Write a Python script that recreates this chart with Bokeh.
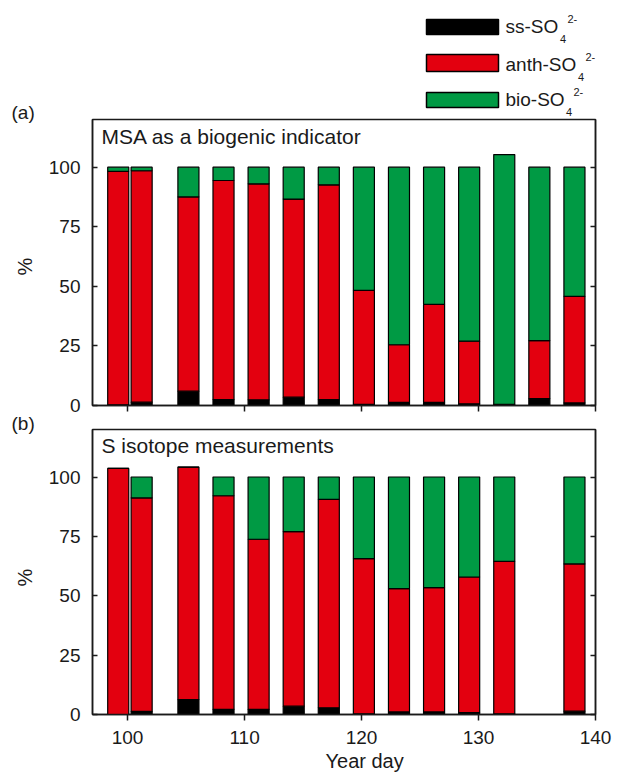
import math
from bokeh.plotting import figure
from bokeh.models import Range1d, LinearAxis, FixedTicker, ColumnDataSource, Title
from bokeh.layouts import column, row
from bokeh.core.properties import value
from bokeh.embed import file_html
from bokeh.resources import INLINE

# ---------------- data ----------------
days_a = [99.2, 101.2, 105.2, 108.2, 111.2, 114.2, 117.2, 120.2, 123.2, 126.2, 129.2, 132.2, 135.2, 138.2]
ss_a = [0.3, 1.4, 6.0, 2.5, 2.4, 3.5, 2.5, 0.5, 1.3, 1.3, 0.7, 0.5, 2.9, 1.1]
anth_a = [97.9, 97.1, 81.5, 91.9, 90.6, 83.1, 90.1, 47.8, 24.2, 41.1, 26.3, 0.0, 24.3, 44.7]
bio_a = [1.8, 1.5, 12.5, 5.6, 7.0, 13.4, 7.4, 51.7, 74.5, 57.6, 73.0, 104.8, 72.8, 54.2]

days_b = [99.2, 101.2, 105.2, 108.2, 111.2, 114.2, 117.2, 120.2, 123.2, 126.2, 129.2, 132.2, 138.2]
ss_b = [0.0, 1.3, 6.3, 2.2, 2.2, 3.5, 2.8, 0.3, 1.1, 1.1, 0.8, 0.3, 1.4]
anth_b = [103.6, 89.9, 97.9, 89.9, 71.6, 73.5, 87.8, 65.3, 51.9, 52.3, 57.1, 64.2, 62.0]
bio_b = [0.0, 8.8, 0.0, 7.9, 26.2, 23.0, 9.4, 34.4, 47.0, 46.6, 42.1, 35.5, 36.6]

x_ticks = [100, 110, 120, 130, 140]
y_ticks = [0, 25, 50, 75, 100]
series = ["ss", "anth", "bio"]
legend_main = ["ss-SO", "anth-SO", "bio-SO"]
legend_sub = ["4", "4", "4"]
legend_sup = ["2-", "2-", "2-"]
panel_tags = ["(a)", "(b)"]
panel_titles = ["MSA as a biogenic indicator", "S isotope measurements"]
x_label = "Year day"
y_label = "%"

# ---------------- style ----------------
FONT = "Liberation Sans"
TXT = "#1a1a1a"
COLORS = ["#000000", "#E3000F", "#009A44"]
FRAME = "#1a1a1a"
X0, X1 = 97, 140
Y0, Y1 = 0, 120
FW = 503
BAR_W = 1.8
STRIP_W = 40
COL_W = 581
B_RIGHT = 26
B_LEFT = COL_W - FW - B_RIGHT   # 52 -> frame left at page x 92
LEG_H = 118
BASE_FIX = 0.375                # alphabetic baseline correction (fraction of font size)


def fix(py, size):
    return py - BASE_FIX * size


def make_panel(days, ss, anth, bio, frame_h, top_b, bottom_b, show_labels):
    src = ColumnDataSource(dict(day=days, ss=ss, anth=anth, bio=bio))
    p = figure(frame_width=FW, frame_height=frame_h,
               x_range=Range1d(X0, X1), y_range=Range1d(Y0, Y1),
               output_backend="svg", toolbar_location=None,
               min_border_left=B_LEFT, min_border_right=B_RIGHT,
               min_border_top=top_b, min_border_bottom=bottom_b)
    p.vbar_stack(series, x="day", width=BAR_W, source=src,
                 fill_color=COLORS, line_color="black", line_width=1.2)
    p.xgrid.visible = False
    p.ygrid.visible = False
    p.outline_line_color = FRAME
    p.outline_line_width = 1.5
    p.background_fill_color = "white"
    p.border_fill_color = "white"

    xa = p.xaxis[0]
    xa.ticker = FixedTicker(ticks=x_ticks)
    xa.major_tick_in = 0
    xa.major_tick_out = 6
    xa.minor_tick_line_color = None
    xa.axis_line_color = FRAME
    xa.axis_line_width = 1.5
    xa.major_tick_line_color = FRAME
    xa.major_tick_line_width = 1.5
    xa.major_label_text_font = FONT
    xa.major_label_text_color = TXT
    xa.major_label_text_font_size = "19px"
    if show_labels:
        xa.major_label_standoff = 10
    else:
        xa.major_label_overrides = {t: "" for t in x_ticks}
        xa.major_label_standoff = 0

    ya = p.yaxis[0]
    ya.ticker = FixedTicker(ticks=y_ticks)
    ya.major_tick_in = 5
    ya.major_tick_out = 0
    ya.minor_tick_line_color = None
    ya.axis_line_color = FRAME
    ya.axis_line_width = 1.5
    ya.major_tick_line_color = FRAME
    ya.major_tick_line_width = 1.5
    ya.major_label_text_font = FONT
    ya.major_label_text_font_size = "19px"
    ya.major_label_text_color = TXT
    ya.major_label_standoff = 12

    ra = LinearAxis(ticker=FixedTicker(ticks=y_ticks),
                    major_label_overrides={t: "" for t in y_ticks},
                    major_label_standoff=0, major_tick_in=5, major_tick_out=0,
                    minor_tick_line_color=None, axis_line_color=FRAME, axis_line_width=1.5,
                    major_tick_line_color=FRAME, major_tick_line_width=1.5)
    p.add_layout(ra, "right")
    return p


# panel (a): page y 118 -> 417, frame 119..405
pa = make_panel(days_a, ss_a, anth_a, bio_a, 286, 119 - LEG_H, 12, False)
# panel (b): page y 417 -> ..., frame 429..714
pb = make_panel(days_b, ss_b, anth_b, bio_b, 285, 12, 0, True)


def xd(px):
    return X0 + (px - 92) * (X1 - X0) / FW


def yda(py):
    return Y1 - (py - 119) * (Y1 - Y0) / 286


def ydb(py):
    return Y1 - (py - 429) * (Y1 - Y0) / 285


# in-frame panel titles
pa.text(x=[xd(101)], y=[yda(fix(144, 21))], text=[panel_titles[0]], text_font=value(FONT),
        text_font_size=value("21px"), text_color=TXT, text_baseline="alphabetic")
pb.text(x=[xd(101)], y=[ydb(fix(452.5, 21))], text=[panel_titles[1]], text_font=value(FONT),
        text_font_size=value("21px"), text_color=TXT, text_baseline="alphabetic")

# x-axis title below panel (b)
pb.add_layout(Title(text=x_label, align="left", offset=325 - 92, text_font=FONT,
                    text_font_size="20px", text_font_style="normal", text_color=TXT,
                    standoff=2), "below")

# ---------------- legend figure: frame spans page x 92..595, y 0..118 ----------------
leg = figure(frame_width=FW, frame_height=LEG_H, x_range=Range1d(92, 92 + FW),
             y_range=Range1d(0, LEG_H), output_backend="svg", toolbar_location=None,
             x_axis_location=None, y_axis_location=None,
             min_border_left=B_LEFT, min_border_right=B_RIGHT,
             min_border_top=0, min_border_bottom=0)
leg.xgrid.visible = False
leg.ygrid.visible = False
leg.outline_line_color = None


def ly(py):
    return LEG_H - py


box_tops = [19, 54, 92]
box_bots = [34, 71, 107]
base_y = [33.5, 71.5, 106.5]
sub_drop = [9.5, 9.5, 9.0]
main_end = [558, 576, 564]
leg.quad(left=[426] * 3, right=[498] * 3, top=[ly(t) for t in box_tops],
         bottom=[ly(b) for b in box_bots], fill_color=COLORS, line_color="black", line_width=1.5)
leg.text(x=[505] * 3, y=[ly(fix(b, 19)) for b in base_y], text=legend_main, text_font=value(FONT),
         text_font_size=value("19px"), text_color=TXT, text_baseline="alphabetic")
leg.text(x=[e + 1.5 for e in main_end], y=[ly(fix(b + d, 11)) for b, d in zip(base_y, sub_drop)],
         text=legend_sub, text_font=value(FONT), text_font_size=value("11px"), text_color=TXT,
         text_baseline="alphabetic")
leg.text(x=[e + 9 for e in main_end], y=[ly(fix(b - 10.5, 11)) for b in base_y], text=legend_sup,
         text_font=value(FONT), text_font_size=value("11px"), text_color=TXT,
         text_baseline="alphabetic")

# ---------------- left strip (page x 0..40) ----------------
STRIP_H = 620
strip = figure(width=STRIP_W, height=STRIP_H, x_range=Range1d(0, STRIP_W),
               y_range=Range1d(0, STRIP_H), output_backend="svg", toolbar_location=None,
               x_axis_location=None, y_axis_location=None,
               min_border_left=0, min_border_right=0, min_border_top=0, min_border_bottom=0)
strip.xgrid.visible = False
strip.ygrid.visible = False
strip.outline_line_color = None


def sy(py):
    return STRIP_H - py


strip.text(x=[11, 11], y=[sy(fix(119.5, 19)), sy(fix(430, 19))], text=panel_tags,
           text_font=value(FONT), text_font_size=value("19px"), text_color=TXT,
           text_baseline="alphabetic")
strip.text(x=[24, 24], y=[sy(266), sy(577)], text=[y_label, y_label], text_font=value(FONT),
           text_font_size=value("20px"), text_color=TXT, text_baseline="middle",
           text_align="center", angle=math.pi / 2)

layout = row(strip, column(leg, pa, pb, spacing=0), spacing=0)
open("out.html", "w").write(file_html(layout, INLINE))
